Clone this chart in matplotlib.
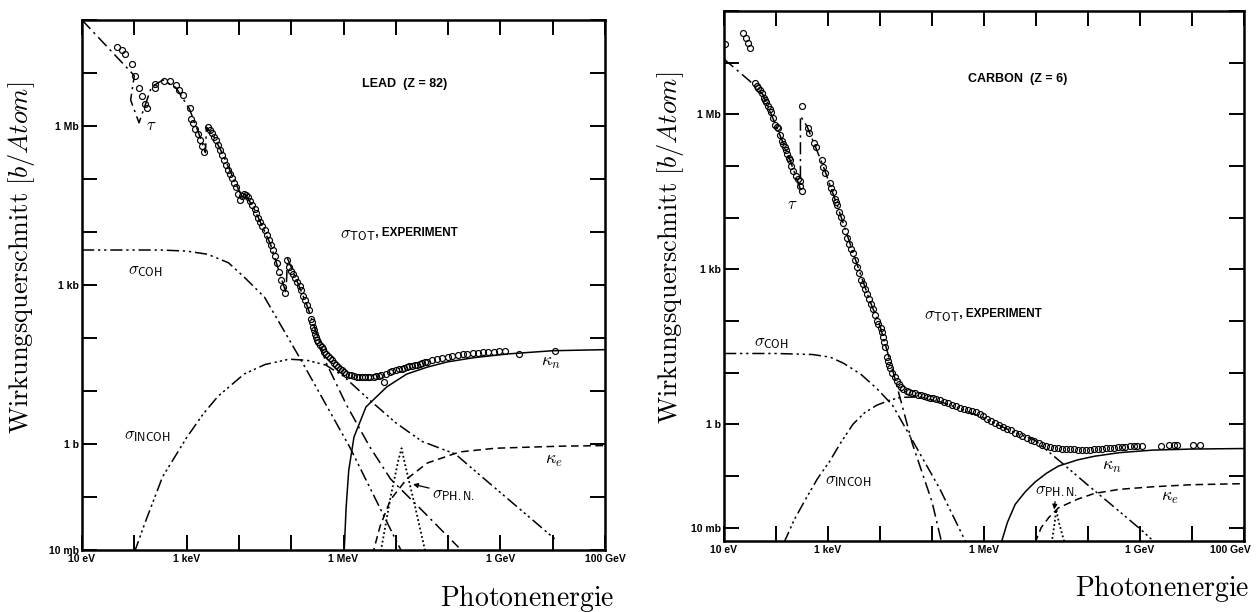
import numpy as np
import matplotlib.pyplot as plt
from matplotlib.transforms import ScaledTranslation

plt.rcParams['mathtext.fontset'] = 'cm'

# all values as log10(E / eV) and log10(sigma / barn)
energy_labels = ['10 eV', '', '1 keV', '', '', '1 MeV', '', '', '1 GeV', '', '100 GeV']
sigma_labels = ['10 mb', '', '1 b', '', '', '1 kb', '', '', '1 Mb', '', '']

# ---------------- lead (Z = 82) ----------------
pb_exp_e = [1.66, 1.76, 1.83, 1.95, 2.02, 2.09, 2.15, 2.21, 2.24, 2.39, 2.39, 2.56,
            2.69, 2.79, 2.85, 2.93, 3.06, 3.09, 3.13, 3.17, 3.21, 3.25, 3.29, 3.33,
            3.40, 3.44, 3.48, 3.52, 3.56, 3.60, 3.64, 3.68, 3.72, 3.76, 3.79, 3.83,
            3.87, 3.91, 3.95, 3.99, 4.02, 4.06, 4.10, 4.14, 4.18, 4.22, 4.26, 4.30,
            4.33, 4.37, 4.41, 4.45, 4.49, 4.53, 4.57, 4.61, 4.65, 4.69, 4.73, 4.76,
            4.80, 4.84, 4.88, 4.92, 4.96, 5.00, 5.04, 5.08, 5.12, 5.16, 5.19, 5.23,
            5.27, 5.30, 5.34, 5.38, 5.40, 5.42, 5.44, 5.46, 5.48, 5.50, 5.52, 5.55,
            5.58, 5.60, 5.63, 5.66, 5.70, 5.74, 5.78, 5.82, 5.86, 5.89, 5.93, 5.97,
            6.01, 6.05, 6.10, 6.15, 6.20, 6.25, 6.30, 6.36, 6.42, 6.46, 6.51, 6.58,
            6.62, 6.67, 6.72, 6.78, 6.82, 6.88, 6.93, 7.01, 7.06, 7.11, 7.16, 7.21,
            7.26, 7.31, 7.36, 7.41, 7.46, 7.50, 7.55, 7.60, 7.70, 7.79, 7.89, 7.99,
            8.08, 8.18, 8.28, 8.37, 8.47, 8.57, 8.67, 8.77, 8.87, 8.97, 9.08, 9.35,
            10.05]
pb_exp_s = [7.49, 7.43, 7.36, 7.17, 6.94, 6.72, 6.57, 6.42, 6.34, 6.79, 6.72, 6.85,
            6.85, 6.77, 6.67, 6.59, 6.34, 6.14, 6.05, 5.95, 5.84, 5.73, 5.62, 5.51,
            5.98, 5.92, 5.86, 5.80, 5.74, 5.65, 5.55, 5.45, 5.36, 5.27, 5.17, 5.09,
            5.01, 4.93, 4.85, 4.72, 4.60, 4.68, 4.72, 4.69, 4.66, 4.58, 4.51, 4.43,
            4.35, 4.27, 4.19, 4.11, 4.03, 3.94, 3.85, 3.76, 3.66, 3.54, 3.41, 3.25,
            3.09, 2.97, 2.84, 3.47, 3.34, 3.27, 3.21, 3.13, 3.06, 2.98, 2.90, 2.80,
            2.71, 2.62, 2.52, 2.36, 2.30, 2.21, 2.15, 2.08, 2.02, 1.96, 1.92, 1.87,
            1.83, 1.79, 1.74, 1.70, 1.66, 1.62, 1.58, 1.53, 1.49, 1.45, 1.42, 1.39,
            1.36, 1.33, 1.31, 1.30, 1.28, 1.27, 1.27, 1.26, 1.26, 1.26, 1.26, 1.27,
            1.28, 1.29, 1.30, 1.17, 1.33, 1.35, 1.37, 1.39, 1.41, 1.42, 1.44, 1.45,
            1.47, 1.48, 1.49, 1.50, 1.51, 1.52, 1.54, 1.55, 1.58, 1.60, 1.62, 1.64,
            1.66, 1.68, 1.69, 1.70, 1.71, 1.72, 1.73, 1.74, 1.74, 1.75, 1.75, 1.70,
            1.76]

pb_tau_e = [1.0, 2.0, 1.93, 2.09, 2.33, 2.55, 2.80, 3.05, 3.20, 3.36, 3.38, 3.50,
            3.70, 3.90, 4.08, 4.10, 4.30, 4.60, 4.90, 4.93, 5.10, 5.30, 5.50, 5.66,
            6.05, 6.50, 6.90, 7.50, 8.20]
pb_tau_s = [8.0, 6.95, 6.49, 6.06, 6.74, 6.87, 6.72, 6.33, 5.95, 5.50, 5.98, 5.84,
            5.45, 5.00, 4.62, 4.75, 4.42, 3.78, 2.85, 3.50, 3.10, 2.62, 2.05, 1.55,
            0.75, -0.05, -0.66, -1.25, -1.95]

pb_coh_e = [1.0, 2.5, 3.0, 3.4, 3.8, 4.1, 4.49, 5.19, 6.12, 7.02, 7.15]
pb_coh_s = [3.66, 3.66, 3.64, 3.58, 3.42, 3.15, 2.77, 1.58, -0.06, -1.85, -2.1]

pb_incoh_e = [2.0, 2.2, 2.54, 3.0, 3.32, 3.6, 4.1, 4.5, 4.96, 5.3, 5.66, 6.0,
              6.43, 7.0, 7.5, 8.14, 8.6, 9.1, 9.6, 10.05]
pb_incoh_s = [-2.05, -1.5, -0.62, 0.12, 0.57, 0.9, 1.32, 1.50, 1.60, 1.58, 1.49, 1.28,
              0.89, 0.40, 0.05, -0.19, -0.58, -1.0, -1.42, -1.8]

pb_kn_e = [6.01, 6.05, 6.1, 6.2, 6.43, 6.83, 7.21, 7.6, 7.99, 8.5, 9.15, 10.0, 11.0]
pb_kn_s = [-2.1, -1.2, -0.5, 0.13, 0.70, 1.08, 1.32, 1.45, 1.55, 1.63, 1.70, 1.76, 1.78]

pb_ke_e = [6.55, 6.7, 6.9, 7.21, 7.6, 8.22, 8.9, 9.53, 10.2, 11.0]
pb_ke_s = [-2.1, -1.55, -1.05, -0.66, -0.36, -0.15, -0.08, -0.06, -0.04, -0.03]

pb_phn_e = [6.70, 6.90, 7.05, 7.11, 7.18, 7.35, 7.58]
pb_phn_s = [-2.1, -1.0, -0.30, -0.08, -0.40, -1.10, -2.1]

# ---------------- carbon (Z = 6) ----------------
c_exp_e = [1.02, 1.37, 1.42, 1.47, 1.50, 1.60, 1.63, 1.66, 1.70, 1.73, 1.77, 1.79,
           1.81, 1.85, 1.88, 1.90, 1.95, 1.98, 2.01, 2.04, 2.08, 2.12, 2.14, 2.17,
           2.19, 2.22, 2.25, 2.27, 2.29, 2.33, 2.38, 2.42, 2.46, 2.47, 2.50, 2.50,
           2.61, 2.63, 2.73, 2.76, 2.88, 2.91, 2.95, 3.03, 3.06, 3.10, 3.13, 3.15,
           3.18, 3.21, 3.25, 3.28, 3.32, 3.37, 3.41, 3.45, 3.48, 3.52, 3.56, 3.60,
           3.63, 3.67, 3.71, 3.75, 3.79, 3.83, 3.87, 3.90, 3.94, 3.97, 4.02, 4.04,
           4.06, 4.08, 4.10, 4.13, 4.15, 4.17, 4.20, 4.24, 4.28, 4.32, 4.36, 4.40,
           4.45, 4.51, 4.56, 4.62, 4.67, 4.74, 4.79, 4.85, 4.91, 4.97, 5.02, 5.08,
           5.15, 5.23, 5.30, 5.38, 5.46, 5.54, 5.61, 5.69, 5.76, 5.84, 5.92, 5.99,
           6.06, 6.14, 6.21, 6.29, 6.36, 6.44, 6.52, 6.60, 6.67, 6.74, 6.82, 6.90,
           6.97, 7.05, 7.12, 7.20, 7.27, 7.35, 7.42, 7.50, 7.58, 7.66, 7.73, 7.81,
           7.88, 7.96, 8.04, 8.12, 8.20, 8.27, 8.35, 8.42, 8.50, 8.57, 8.65, 8.72,
           8.80, 8.88, 8.95, 9.03, 9.41, 9.56, 9.66, 9.71, 10.01, 10.16]
c_exp_s = [7.36, 7.57, 7.48, 7.38, 7.28, 6.60, 6.55, 6.51, 6.47, 6.42, 6.32, 6.28,
           6.24, 6.16, 6.10, 6.04, 5.92, 5.79, 5.76, 5.73, 5.60, 5.48, 5.42, 5.36,
           5.30, 5.23, 5.16, 5.11, 5.00, 4.90, 4.80, 4.75, 4.71, 4.62, 4.52, 6.17,
           5.73, 5.64, 5.45, 5.36, 5.11, 4.98, 4.86, 4.67, 4.58, 4.49, 4.36, 4.30,
           4.24, 4.11, 4.02, 3.89, 3.75, 3.61, 3.49, 3.40, 3.31, 3.18, 3.05, 2.93,
           2.80, 2.71, 2.62, 2.52, 2.43, 2.33, 2.24, 2.12, 2.00, 1.95, 1.87, 1.78,
           1.68, 1.59, 1.50, 1.31, 1.23, 1.15, 1.08, 1.00, 0.92, 0.84, 0.78, 0.72,
           0.69, 0.65, 0.63, 0.61, 0.60, 0.57, 0.56, 0.55, 0.53, 0.51, 0.50, 0.48,
           0.46, 0.44, 0.41, 0.37, 0.35, 0.32, 0.30, 0.28, 0.26, 0.24, 0.20, 0.16,
           0.11, 0.06, 0.03, -0.01, -0.05, -0.09, -0.12, -0.16, -0.19, -0.22, -0.26, -0.30,
           -0.33, -0.37, -0.40, -0.42, -0.44, -0.45, -0.46, -0.47, -0.47, -0.48, -0.48, -0.49,
           -0.49, -0.49, -0.49, -0.48, -0.48, -0.47, -0.46, -0.45, -0.45, -0.44, -0.44, -0.44,
           -0.43, -0.42, -0.42, -0.42, -0.42, -0.41, -0.41, -0.41, -0.41, -0.41]

c_tau_e = [1.0, 1.5, 1.75, 2.0, 2.25, 2.47, 2.47, 2.6, 2.9, 3.2, 3.5, 3.8, 4.0,
           4.24, 4.62, 5.0, 5.2]
c_tau_s = [7.07, 6.64, 6.38, 5.78, 5.17, 4.55, 5.97, 5.76, 5.02, 4.17, 3.27, 2.40, 1.90,
           1.06, -0.37, -1.50, -2.35]

c_coh_e = [1.0, 2.0, 2.7, 3.04, 3.3, 3.63, 3.95, 4.24, 4.69, 5.15, 5.66]
c_coh_s = [1.37, 1.37, 1.35, 1.30, 1.18, 0.97, 0.68, 0.37, -0.43, -1.25, -2.3]

c_incoh_e = [2.15, 2.35, 2.57, 2.8, 3.03, 3.25, 3.48, 3.7, 3.94, 4.2, 4.4, 4.8, 5.2,
             5.6, 6.0, 6.5, 6.98, 7.5, 8.0, 8.5, 9.03, 9.3]
c_incoh_s = [-2.3, -1.85, -1.45, -1.05, -0.72, -0.35, 0.0, 0.22, 0.37, 0.47, 0.52, 0.53,
             0.42, 0.28, 0.12, -0.12, -0.31, -0.75, -1.18, -1.60, -2.05, -2.3]

c_kn_e = [6.33, 6.45, 6.6, 6.8, 6.98, 7.2, 7.43, 7.8, 8.12, 8.6, 9.25, 10.0, 11.0]
c_kn_s = [-2.3, -1.9, -1.55, -1.3, -1.12, -0.95, -0.81, -0.69, -0.62, -0.55, -0.50, -0.48, -0.47]

c_ke_e = [6.98, 7.1, 7.25, 7.43, 7.8, 8.12, 8.6, 9.25, 10.0, 11.0]
c_ke_s = [-2.3, -2.0, -1.8, -1.62, -1.45, -1.34, -1.26, -1.21, -1.17, -1.15]

c_phn_e = [7.30, 7.36, 7.39, 7.44, 7.55]
c_phn_s = [-2.3, -1.9, -1.65, -1.9, -2.3]


TAU = (0, (8, 3, 1.5, 3))
COH = (0, (8, 2.5, 1.5, 2.5, 1.5, 2.5))
INCOH = (0, (8, 2.5, 1.5, 2, 1.5, 2, 1.5, 2.5))
KE = (0, (5, 3))
PHN = (0, (1, 1.4))


def curve(ax, le, ls_, style, lw=1.1):
    ax.plot(10.0 ** np.array(le), 10.0 ** np.array(ls_), color='black',
            lw=lw, linestyle=style, zorder=2)


def setup(ax, ylim):
    ax.set_xscale('log')
    ax.set_yscale('log')
    ax.set_xlim(1e1, 1e11)
    ax.set_ylim(*ylim)
    ax.set_xticks(10.0 ** np.arange(1, 12))
    ax.set_xticklabels(energy_labels)
    ax.set_yticks(10.0 ** np.arange(-2, 9))
    ax.set_yticklabels(sigma_labels)
    ax.minorticks_off()
    ax.tick_params(direction='in', length=11, width=1.4, top=True, right=True,
                   labelsize=7.5, pad=3)
    ax.tick_params(axis='y', pad=2)
    for lab in ax.get_xticklabels() + ax.get_yticklabels():
        lab.set_fontweight('bold')
        lab.set_family('Liberation Sans')
    for s in ax.spines.values():
        s.set_linewidth(1.8)


def put(ax, le, ls_, text, size=12, **kw):
    ax.text(10.0 ** le, 10.0 ** ls_, text, fontsize=size, va='center', **kw)


def exp_points(ax, le, ls_):
    ax.plot(10.0 ** np.array(le), 10.0 ** np.array(ls_), 'o', ms=4.3,
            mfc='none', mec='black', mew=0.85, zorder=3)


def phn_arrow(ax, tip, text_at):
    ax.annotate(r'$\sigma_{\mathsf{PH.N.}}$', xy=(10.0 ** tip[0], 10.0 ** tip[1]),
                xytext=(10.0 ** text_at[0], 10.0 ** text_at[1]), fontsize=12,
                va='center',
                arrowprops=dict(arrowstyle='-|>', color='black', lw=0.9,
                                mutation_scale=7, shrinkA=0, shrinkB=0))


def panel_lead(ax):
    setup(ax, (1e-2, 1e8))
    curve(ax, pb_tau_e, pb_tau_s, TAU)
    curve(ax, pb_coh_e, pb_coh_s, COH)
    curve(ax, pb_incoh_e, pb_incoh_s, INCOH)
    curve(ax, pb_kn_e, pb_kn_s, '-')
    curve(ax, pb_ke_e, pb_ke_s, KE)
    curve(ax, pb_phn_e, pb_phn_s, PHN, lw=1.3)
    exp_points(ax, pb_exp_e, pb_exp_s)

    put(ax, 7.17, 6.79, 'LEAD  (Z = 82)', size=9, ha='center',
        fontweight='bold', family='Liberation Sans')
    put(ax, 5.93, 3.96, r'$\sigma_{\mathsf{TOT}}$', ha='left')
    put(ax, 6.55, 3.98, ' , EXPERIMENT', size=8.5, ha='left',
        fontweight='bold', family='Liberation Sans')
    put(ax, 1.88, 3.28, r'$\sigma_{\mathsf{COH}}$', ha='left')
    put(ax, 1.80, 0.17, r'$\sigma_{\mathsf{INCOH}}$', ha='left')
    put(ax, 9.78, 1.55, r'$\kappa_n$', size=13, ha='left')
    put(ax, 9.86, -0.30, r'$\kappa_e$', size=13, ha='left')
    put(ax, 2.33, 6.02, r'$\tau$', size=12, ha='center')
    phn_arrow(ax, (7.33, -0.76), (7.69, -0.94))


def panel_carbon(ax):
    setup(ax, (10.0 ** -2.26, 10.0 ** 7.64))
    curve(ax, c_tau_e, c_tau_s, TAU)
    curve(ax, c_coh_e, c_coh_s, COH)
    curve(ax, c_incoh_e, c_incoh_s, INCOH)
    curve(ax, c_kn_e, c_kn_s, '-')
    curve(ax, c_ke_e, c_ke_s, KE)
    curve(ax, c_phn_e, c_phn_s, PHN, lw=1.3)
    exp_points(ax, c_exp_e, c_exp_s)

    put(ax, 6.65, 6.69, 'CARBON  (Z = 6)', size=9, ha='center',
        fontweight='bold', family='Liberation Sans')
    put(ax, 4.85, 2.11, r'$\sigma_{\mathsf{TOT}}$', ha='left')
    put(ax, 5.47, 2.13, ' , EXPERIMENT', size=8.5, ha='left',
        fontweight='bold', family='Liberation Sans')
    put(ax, 1.58, 1.59, r'$\sigma_{\mathsf{COH}}$', ha='left')
    put(ax, 2.94, -1.08, r'$\sigma_{\mathsf{INCOH}}$', ha='left')
    put(ax, 8.27, -0.80, r'$\kappa_n$', size=13, ha='left')
    put(ax, 9.40, -1.40, r'$\kappa_e$', size=13, ha='left')
    put(ax, 2.31, 4.26, r'$\tau$', size=12, ha='center')
    phn_arrow(ax, (7.35, -1.65), (6.98, -1.27))

    # the last energy label sits at the page edge, keep it on the sheet
    last = ax.get_xticklabels()[-1]
    last.set_ha('right')
    last.set_transform(last.get_transform() +
                       ScaledTranslation(5 / 72, 0, ax.figure.dpi_scale_trans))


fig = plt.figure(figsize=(12.59, 6.12), dpi=100)
ax_pb = fig.add_axes([82 / 1259, 62 / 612, 523 / 1259, 530 / 612])
ax_c = fig.add_axes([724 / 1259, 71 / 612, 520 / 1259, 530 / 612])
panel_lead(ax_pb)
panel_carbon(ax_c)

ylab = r'$\mathrm{Wirkungsquerschnitt}\ [b/Atom]$'
fig.text(22 / 1259, 1 - 258 / 612, ylab, rotation=90, fontsize=19,
         ha='center', va='center')
fig.text(670 / 1259, 1 - 248 / 612, ylab, rotation=90, fontsize=19,
         ha='center', va='center')
fig.text(527 / 1259, 1 - 598 / 612, r'$\mathrm{Photonenergie}$', fontsize=20,
         ha='center', va='center')
fig.text(1162 / 1259, 1 - 588 / 612, r'$\mathrm{Photonenergie}$', fontsize=20,
         ha='center', va='center')

fig.savefig('out.png', dpi=100)
